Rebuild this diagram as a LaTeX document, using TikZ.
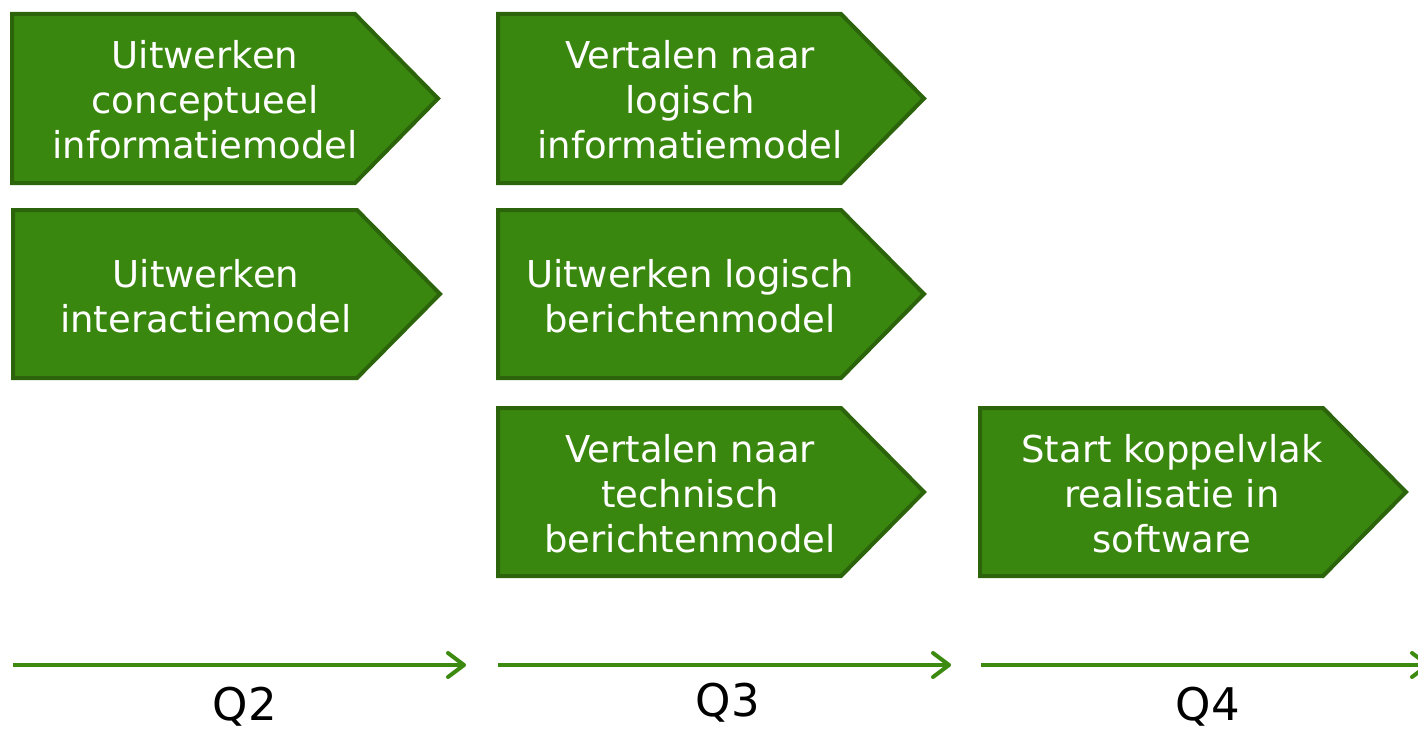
\documentclass[tikz,border=0pt]{standalone}
\usepackage{fontspec}
\setmainfont{DejaVu Sans}
\usetikzlibrary{arrows.meta}
\definecolor{boxfill}{RGB}{58,135,15}
\definecolor{boxline}{RGB}{44,100,11}
\definecolor{arrowgreen}{RGB}{60,138,16}
\tikzset{
  pent/.style={fill=boxfill, draw=boxline, line width=4bp, line join=miter},
  boxtext/.style={text=white, align=center, inner sep=0pt, font=\fontsize{37bp}{45bp}\selectfont},
  timeline/.style={draw=arrowgreen, line width=4bp, -{Straight Barb[length=16bp,width=24bp,round]}},
  qlabel/.style={text=black, inner sep=0pt, anchor=base, font=\fontsize{45bp}{54bp}\selectfont}
}
\newcommand{\pentagon}[4]{% left, top, bottom, tip-x
  \pgfmathsetmacro{\bodyr}{#4-83}
  \pgfmathsetmacro{\midy}{(#2+#3)/2}
  \path[pent] (#1,#2) -- (\bodyr,#2) -- (#4,\midy) -- (\bodyr,#3) -- (#1,#3) -- cycle;
}
\begin{document}
\begin{tikzpicture}[x=1bp,y=-1bp]
\useasboundingbox (0,0) rectangle (1418,731);
% boxes
\pentagon{12}{14}{183}{438}
\pentagon{13}{210}{378}{440}
\pentagon{498}{14}{183}{924}
\pentagon{498}{210}{378}{924}
\pentagon{498}{408}{576}{924}
\pentagon{980}{408}{576}{1406}
% texts
\node[boxtext] (t1) at (205,100) {Uitwerken\\conceptueel\\informatiemodel};
\node[boxtext] (t2) at (206,296) {Uitwerken\\interactiemodel};
\node[boxtext] (t3) at (690,100) {Vertalen naar\\logisch\\informatiemodel};
\node[boxtext] (t4) at (690,296) {Uitwerken logisch\\berichtenmodel};
\node[boxtext] (t5) at (690,494) {Vertalen naar\\technisch\\berichtenmodel};
\node[boxtext] (t6) at (1172,494) {Start koppelvlak\\realisatie in\\software};
% timeline arrows
\coordinate (a1s) at (13,665);
\coordinate (a1e) at (466,665);
\coordinate (a2s) at (498,665);
\coordinate (a2e) at (951,665);
\coordinate (a3s) at (981,665);
\coordinate (a3e) at (1430,665);
\draw[timeline] (a1s) -- (a1e);
\draw[timeline] (a2s) -- (a2e);
\draw[timeline] (a3s) -- (a3e);
% labels
\node[qlabel] (q2) at (245,720) {Q2};
\node[qlabel] (q3) at (728,716) {Q3};
\node[qlabel] (q4) at (1208,720) {Q4};
\end{tikzpicture}
\end{document}
